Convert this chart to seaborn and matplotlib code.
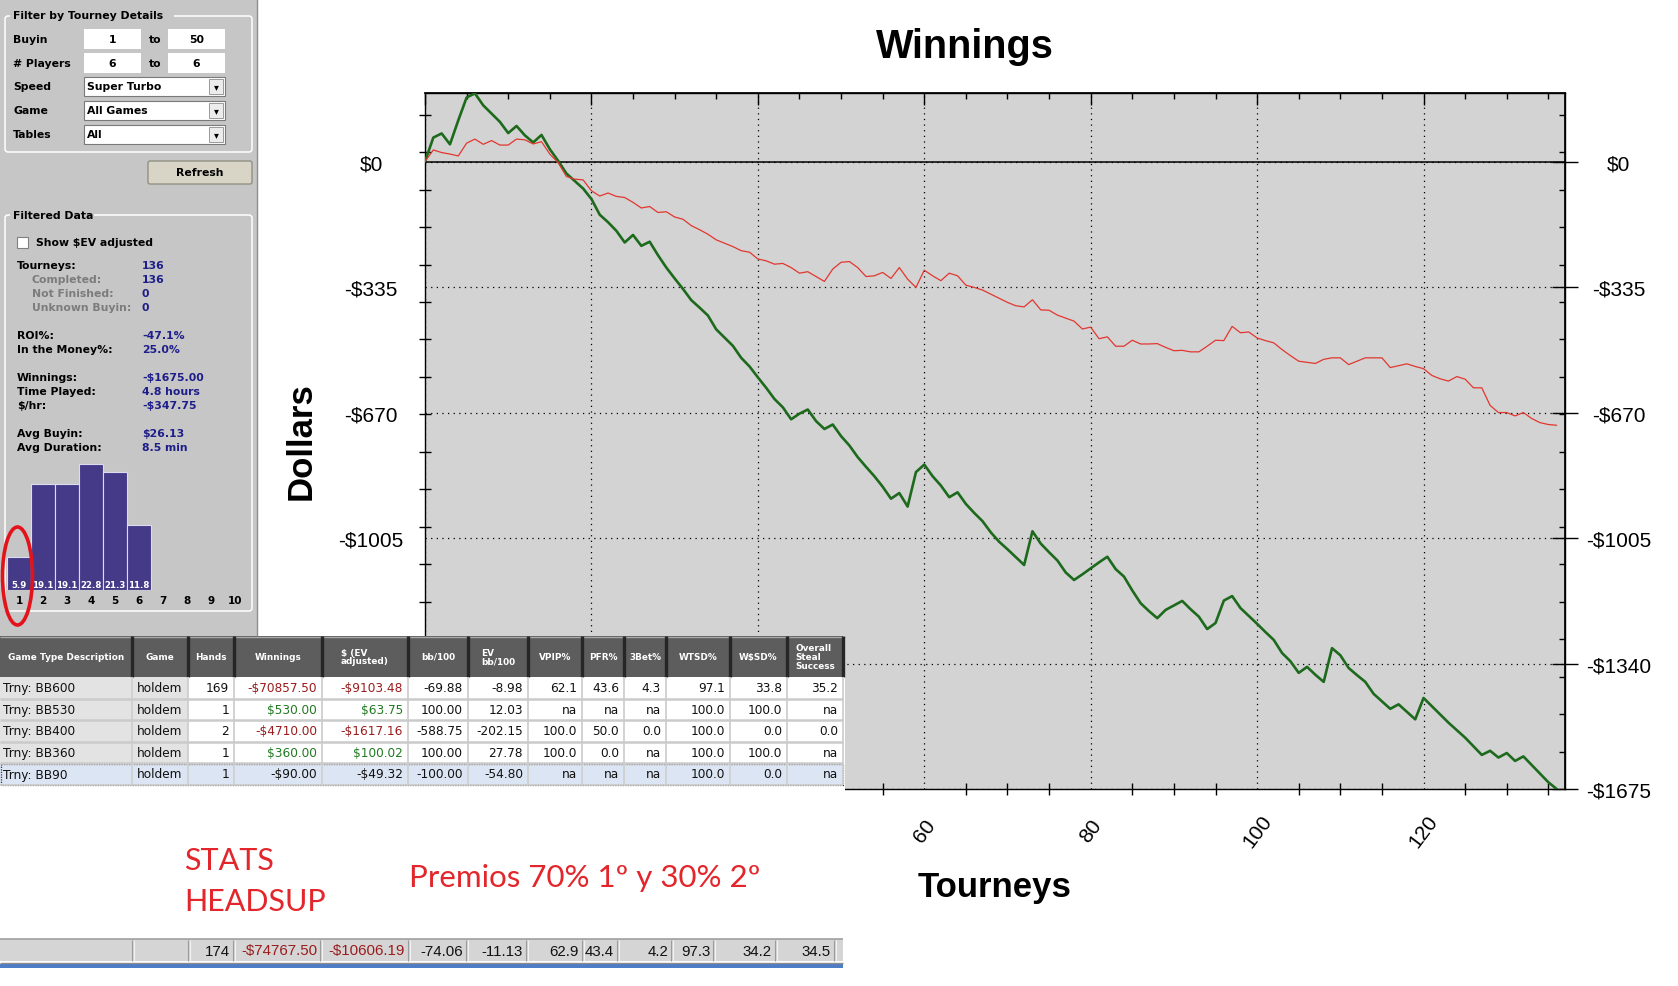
import matplotlib
matplotlib.use("Agg")
import matplotlib.pyplot as plt
import seaborn as sns
import pandas as pd
from matplotlib.patches import Rectangle, FancyBboxPatch, Ellipse
from matplotlib.ticker import FixedLocator, MultipleLocator

sns.set_theme(style="white")
plt.rcParams['font.family'] = ['Liberation Sans', 'DejaVu Sans']
plt.rcParams['text.parse_math'] = False

W, H, DPI = 1678, 987, 100

# ---------------- data ----------------
tourneys = list(range(137))
winnings = [
    0, 64, 75, 46, 110, 171, 182, 150, 128, 106,
    76, 95, 70, 51, 71, 33, 2, -32, -52, -72,
    -100, -142, -162, -185, -216, -196, -225, -214, -250, -283,
    -312, -340, -370, -390, -411, -448, -470, -492, -524, -547,
    -576, -604, -634, -656, -688, -673, -662, -693, -714, -702,
    -733, -758, -789, -815, -840, -868, -900, -885, -921, -829,
    -809, -840, -865, -896, -883, -914, -938, -960, -990, -1015,
    -1035, -1056, -1077, -987, -1020, -1043, -1065, -1097, -1117, -1102,
    -1086, -1070, -1055, -1088, -1108, -1145, -1179, -1200, -1219, -1197,
    -1185, -1173, -1195, -1215, -1248, -1232, -1172, -1160, -1192, -1213,
    -1234, -1256, -1277, -1312, -1334, -1365, -1349, -1370, -1389, -1299,
    -1318, -1352, -1371, -1389, -1421, -1441, -1461, -1449, -1469, -1489,
    -1432, -1454, -1476, -1498, -1518, -1538, -1561, -1584, -1573, -1591,
    -1579, -1600, -1588, -1611, -1634, -1657, -1675,
]
ev_winnings = [
    0, 31, 24, 20, 15, 49, 60, 46, 56, 44,
    44, 60, 58, 47, 53, 20, -3, -40, -47, -49,
    -78, -92, -84, -93, -96, -109, -124, -120, -136, -134,
    -148, -154, -171, -182, -194, -209, -218, -227, -238, -242,
    -260, -265, -274, -272, -283, -298, -294, -307, -320, -287,
    -269, -267, -283, -307, -305, -296, -312, -283, -314, -336,
    -290, -305, -318, -298, -305, -330, -336, -343, -354, -365,
    -376, -385, -388, -369, -396, -397, -410, -418, -426, -447,
    -442, -473, -468, -493, -493, -477, -487, -487, -486, -496,
    -505, -504, -508, -508, -493, -477, -478, -440, -457, -455,
    -471, -478, -484, -502, -518, -533, -536, -539, -528, -524,
    -524, -542, -533, -524, -524, -524, -550, -545, -540, -547,
    -553, -571, -580, -586, -574, -581, -604, -604, -651, -670,
    -670, -679, -670, -686, -697, -702, -704,
]
y_major = [-1675, -1340, -1005, -670, -335, 0]
y_labels = ["-$1675", "-$1340", "-$1005", "-$670", "-$335", "$0"]
y_minor = [-1675 + 100 * k for k in range(19)]
x_major = [0, 20, 40, 60, 80, 100, 120]

hist_bins = ["1", "2", "3", "4", "5", "6", "7", "8", "9", "10"]
hist_pct = [5.9, 19.1, 19.1, 22.8, 21.3, 11.8, 0, 0, 0, 0]

filter_labels = ["Buyin", "# Players", "Speed", "Game", "Tables"]
range_from = ["1", "6"]
range_to = ["50", "6"]
combo_values = ["Super Turbo", "All Games", "All"]

stat_labels = ["Tourneys:", "Completed:", "Not Finished:", "Unknown Buyin:",
               "ROI%:", "In the Money%:", "Winnings:", "Time Played:", "$/hr:",
               "Avg Buyin:", "Avg Duration:"]
stat_values = ["136", "136", "0", "0", "-47.1%", "25.0%", "-$1675.00",
               "4.8 hours", "-$347.75", "$26.13", "8.5 min"]

table_header = ["Game Type Description", "Game", "Hands", "Winnings", "$ (EV\nadjusted)",
                "bb/100", "EV\nbb/100", "VPIP%", "PFR%", "3Bet%", "WTSD%", "W$SD%",
                "Overall\nSteal\nSuccess"]
table_rows = [
    ["Trny: BB600", "holdem", "169", "-$70857.50", "-$9103.48", "-69.88", "-8.98", "62.1", "43.6", "4.3", "97.1", "33.8", "35.2"],
    ["Trny: BB530", "holdem", "1", "$530.00", "$63.75", "100.00", "12.03", "na", "na", "na", "100.0", "100.0", "na"],
    ["Trny: BB400", "holdem", "2", "-$4710.00", "-$1617.16", "-588.75", "-202.15", "100.0", "50.0", "0.0", "100.0", "0.0", "0.0"],
    ["Trny: BB360", "holdem", "1", "$360.00", "$100.02", "100.00", "27.78", "100.0", "0.0", "na", "100.0", "100.0", "na"],
    ["Trny: BB90", "holdem", "1", "-$90.00", "-$49.32", "-100.00", "-54.80", "na", "na", "na", "100.0", "0.0", "na"],
]
summary_values = ["", "", "174", "-$74767.50", "-$10606.19", "-74.06", "-11.13",
                  "62.9", "43.4", "4.2", "97.3", "34.2", "34.5", ""]

note_lines = ["STATS", "HEADSUP"]
note_prizes = "Premios 70% 1º y 30% 2º"

# ---------------- figure ----------------
fig = plt.figure(figsize=(W / DPI, H / DPI), dpi=DPI)
fig.patch.set_facecolor("white")


def px_axes(x0, y0, x1, y1, **kw):
    return fig.add_axes([x0 / W, 1 - y1 / H, (x1 - x0) / W, (y1 - y0) / H], **kw)


# ---- main chart ----
ax = px_axes(425, 94, 1565, 790, zorder=1)
df = pd.DataFrame({"Tourneys": tourneys, "Winnings": winnings, "EV": ev_winnings})
sns.lineplot(data=df, x="Tourneys", y="Winnings", color="#1d6a1d", lw=1.9, ax=ax, zorder=3)
sns.lineplot(data=df, x="Tourneys", y="EV", color="#e2372f", lw=0.9, ax=ax, zorder=4)
ax.set_facecolor("#d3d3d3")
ax.set_xlim(0, 137)
ax.set_ylim(-1675, 183)
ax.axhline(0, color="black", lw=1.1, zorder=2)
for s in ax.spines.values():
    s.set_color("black")
    s.set_linewidth(1.0)

ax.set_yticks(y_major, y_labels, ha="center")
ax.yaxis.set_minor_locator(FixedLocator(y_minor))
ax.set_xticks(x_major, [str(v) for v in x_major], rotation=53, ha="center", va="center")
ax.xaxis.set_minor_locator(MultipleLocator(5))
ax.tick_params(axis="both", which="major", direction="inout", length=18.7, width=1,
               color="black", labelcolor="black", labelsize=15,
               top=False, right=False)
ax.tick_params(axis="both", which="minor", direction="inout", length=8.6, width=1,
               color="black", top=False, right=False, left=True, bottom=True)
ax.tick_params(axis="y", which="major", pad=29.5)
ax.tick_params(axis="x", which="major", pad=20.7)
ax.grid(which="major", axis="both", color="black", lw=0.9, linestyle=(0, (1, 3.5)))
ax.set_axisbelow(True)
# labels that the table / white panel hide in the original screenshot
for tick, val in zip(ax.yaxis.get_major_ticks(), y_major):
    if val < -1200:
        tick.label1.set_visible(False)
for tick, val in zip(ax.xaxis.get_major_ticks(), x_major):
    if val < 50:
        tick.label1.set_visible(False)

sec_x = ax.secondary_xaxis("top")
sec_x.set_xticks(x_major, [""] * len(x_major))
sec_x.xaxis.set_minor_locator(MultipleLocator(5))
sec_x.tick_params(which="major", direction="in", length=8.6, width=1, color="black")
sec_x.tick_params(which="minor", direction="in", length=4.3, width=1, color="black")
sec_x.spines["top"].set_color("black")

sec_y = ax.secondary_yaxis("right")
sec_y.set_yticks(y_major, y_labels, ha="center")
sec_y.yaxis.set_minor_locator(FixedLocator(y_minor))
sec_y.tick_params(which="major", direction="inout", length=18.7, width=1, color="black",
                  labelcolor="black", labelsize=15, pad=29.5)
sec_y.tick_params(which="minor", direction="in", length=4.3, width=1, color="black")
sec_y.spines["right"].set_color("black")

ax.set_title("Winnings", x=(965 - 425) / 1140, y=(790 - 47) / 696, va="center", pad=0,
             fontsize=28.5, fontweight="bold", color="black")
ax.set_xlabel("Tourneys", fontsize=25, fontweight="bold", color="black", va="center")
ax.xaxis.set_label_coords(0.5, -(888 - 790) / 696)
ax.set_ylabel("Dollars", fontsize=25, fontweight="bold", color="black", va="center", ha="center")
ax.yaxis.set_label_coords((301 - 425) / 1140, (790 - 441) / 696)

# ---- overlay (UI panel, table) in pixel coordinates ----
ov = fig.add_axes([0, 0, 1, 1], zorder=2)
ov.set_xlim(0, W)
ov.set_ylim(H, 0)
ov.axis("off")
ov.patch.set_alpha(0)

UI = "DejaVu Sans"
PANEL = "#c6c6c6"
NAVY = "#1e1e8a"


def rect(x0, y0, x1, y1, fc, ec="none", lw=0, **kw):
    ov.add_patch(Rectangle((x0, y0), x1 - x0, y1 - y0, facecolor=fc, edgecolor=ec, lw=lw, **kw))


def txt(x, y, s, size=7.8, weight="bold", color="black", ha="left", va="center", family=UI, **kw):
    ov.text(x, y, s, fontsize=size, fontweight=weight, color=color, ha=ha, va=va,
            family=family, **kw)


def vline(x, y0, y1, color, lw, **kw):
    ov.plot([x, x], [y0, y1], color=color, lw=lw, solid_capstyle="butt", **kw)


def hline(y, x0, x1, color, lw, **kw):
    ov.plot([x0, x1], [y, y], color=color, lw=lw, solid_capstyle="butt", **kw)


# white cover below/around table
rect(0, 637, 845, H, "white")

# left panel
rect(0, 0, 257, 637, PANEL)
vline(256.5, 0, 637, "#8e8e8e", 1)

# groupbox 1
ov.add_patch(FancyBboxPatch((5, 17), 247, 136, boxstyle="round,pad=0,rounding_size=3",
                            facecolor="none", edgecolor="white", lw=1.1))
rect(10, 9, 174, 24, PANEL)
txt(13, 16, "Filter by Tourney Details")
row_y = [40, 64, 87, 111, 135]
for lbl, yy in zip(filter_labels, row_y):
    txt(13, yy, lbl)
for i, yy in enumerate(row_y[:2]):
    rect(84, yy - 10, 141, yy + 10, "white")
    rect(168, yy - 10, 225, yy + 10, "white")
    txt(112.5, yy, range_from[i], ha="center")
    txt(155, yy, "to", ha="center")
    txt(196.5, yy, range_to[i], ha="center")
for val, yy in zip(combo_values, row_y[2:]):
    rect(84, yy - 9.5, 225, yy + 9.5, "white", ec="#7a7a7a", lw=0.8)
    txt(87, yy, val)
    rect(209, yy - 7.5, 223, yy + 7.5, "#ececec", ec="#9a9a9a", lw=0.7)
    txt(216, yy + 0.5, "▾", size=7, weight="normal", ha="center")
# refresh button
ov.add_patch(FancyBboxPatch((148, 162), 104, 23, boxstyle="round,pad=0,rounding_size=2",
                            facecolor="#d8d5c6", edgecolor="#8a8a7c", lw=0.9))
txt(200, 173.5, "Refresh", ha="center")

# groupbox 2
ov.add_patch(FancyBboxPatch((5, 216), 247, 396, boxstyle="round,pad=0,rounding_size=3",
                            facecolor="none", edgecolor="white", lw=1.1))
rect(10, 208, 94, 224, PANEL)
txt(13, 216, "Filtered Data")
rect(17, 238, 28, 249, "white", ec="#808080", lw=0.8)
txt(36, 243.5, "Show $EV adjusted")
stat_y = [266, 280, 294, 308, 336, 350, 378, 392, 406, 434, 448]
for i, (lbl, val, yy) in enumerate(zip(stat_labels, stat_values, stat_y)):
    sub = i in (1, 2, 3)
    txt(32 if sub else 17, yy, lbl, color="#7c7c7c" if sub else "black")
    txt(142, yy, val, color=NAVY)

# ---- table ----
C = [0, 132, 188, 234, 322, 408, 468, 528, 582, 624, 666, 730, 787, 843]
R = [678, 699.5, 721, 742.5, 764, 786]
rect(0, 637, 843, 678, "#5d5d5d")
hline(637.5, 0, 845, "#a8a8a8", 1)
for x in C[1:]:
    vline(x, 637, 678, "#262626", 2.4)
for j, h in enumerate(table_header):
    cx = (C[j] + C[j + 1]) / 2
    if "\n" in h:
        txt(cx, 657.5, h, size=6.4, color="white", ha="center", multialignment="left",
            linespacing=0.95)
    else:
        txt(cx, 657.5, h, size=6.4, color="white", ha="center")
for r, row in enumerate(table_rows):
    y0, y1 = R[r], R[r + 1]
    selected = r == len(table_rows) - 1
    if selected:
        rect(0, y0, 843, y1, "#dbe5f3")
    else:
        rect(0, y0, C[2], y1, "#e3e3e3")
        rect(C[2], y0, 843, y1, "white")
for x in C[1:]:
    vline(x, 678, 786, "#cfcfcf", 1.3)
for y in R[1:-1]:
    hline(y, 0, 843, "#cbcbcb", 1.8)
hline(786, 0, 843, "#cbcbcb", 1.2)
ov.add_patch(Rectangle((0.5, R[-2] + 0.5), 842, R[-1] - R[-2] - 1, facecolor="none",
                       edgecolor="#333333", lw=0.9, linestyle=(0, (1, 1))))
for r, row in enumerate(table_rows):
    yc = (R[r] + R[r + 1]) / 2
    selected = r == len(table_rows) - 1
    for j, val in enumerate(row):
        color = "#111111"
        if j in (3, 4) and not selected:
            color = "#9a1c1c" if val.startswith("-") else "#217a21"
        if j == 0:
            txt(3, yc, val, size=8.7, weight="normal", color=color)
        elif j == 1:
            txt(C[1] + 5, yc, val, size=8.7, weight="normal", color=color)
        else:
            txt(C[j + 1] - 5, yc, val, size=8.7, weight="normal", color=color, ha="right")

# ---- red notes ----
txt(184, 861, note_lines[0], size=22, weight="normal", color="#e2262b", family="Lato")
txt(184, 902, note_lines[1], size=22, weight="normal", color="#e2262b", family="Lato")
txt(409, 878, note_prizes, size=22.5, weight="normal", color="#e2262b", family="Lato")

# ---- summary row ----
SC = [0, 133, 189, 234, 321, 409, 467, 527, 583, 618, 672, 714, 776, 835, 843]
rect(0, 940, 843, 962, "#d5d5d5")
hline(940, 0, 843, "#a0a0a0", 1.2)
for x in SC[1:-1]:
    vline(x - 0.8, 941, 962, "#9c9c9c", 0.8)
    vline(x + 0.5, 941, 962, "#f2f2f2", 0.8)
for j, val in enumerate(summary_values):
    if val:
        color = "#9a1c1c" if j in (3, 4) else "#111111"
        txt(SC[j + 1] - 4, 951.5, val, size=10.8, weight="normal", color=color, ha="right",
            family="Liberation Sans")
hline(963.5, 0, 843, "#8c8c8c", 1)
rect(0, 964.5, 843, 969, "#4c7dc6")

# ---- histogram of finishing positions ----
axh = px_axes(7, 465, 247, 590.7, zorder=3)
sns.barplot(x=hist_bins, y=hist_pct, order=hist_bins, color="#453a88", saturation=1,
            width=0.96, edgecolor="#dcdcf0", linewidth=0.8, ax=axh)
for p in axh.patches:
    if p.get_height() == 0:
        p.set_visible(False)
axh.set_xlim(-0.5, 9.5)
axh.set_ylim(0, 22.8)
axh.patch.set_alpha(0)
for s in axh.spines.values():
    s.set_visible(False)
axh.set_yticks([])
axh.set_ylabel("")
axh.set_xlabel("")
axh.tick_params(axis="x", length=0, pad=4, labelsize=7.5, labelcolor="black")
for lbl in axh.get_xticklabels():
    lbl.set_fontweight("bold")
    lbl.set_family(UI)
for i, v in enumerate(hist_pct):
    if v > 0:
        axh.text(i, 0.2, f"{v}", ha="center", va="bottom", color="white",
                 fontsize=6.2, fontweight="bold", family=UI)

# red circle annotation around the first bar
fig.add_artist(Ellipse((17.5 / W, 1 - 577 / H), 30 / W, 98 / H, transform=fig.transFigure,
                       fill=False, edgecolor="#e3121b", lw=2.6, zorder=10))

fig.savefig("out.png", dpi=DPI, facecolor="white")
